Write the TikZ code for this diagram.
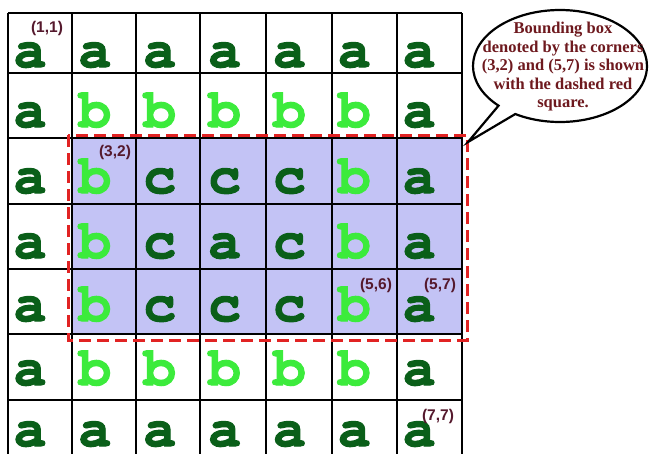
\documentclass[tikz,border=0pt]{standalone}
\usepackage{fontspec}
\usetikzlibrary{shapes.callouts}
\newfontfamily\cellfont{TeX Gyre Cursor}[BoldFeatures={FakeBold=1.8}]
\newfontfamily\labfont{Liberation Sans}
\newfontfamily\notefont{Liberation Serif}
\definecolor{la}{RGB}{10,95,25}
\definecolor{lb}{RGB}{60,235,60}
\definecolor{lc}{RGB}{10,95,25}
\definecolor{boxfill}{RGB}{195,195,245}
\definecolor{boxred}{RGB}{225,35,35}
\definecolor{labcol}{RGB}{85,25,45}
\definecolor{notecol}{RGB}{110,25,30}
\tikzset{
  letter/.style={font=\cellfont\bfseries\fontsize{55}{55}\selectfont, inner sep=0pt, anchor=base},
  coordlab/.style={font=\labfont\bfseries\fontsize{15.5}{15.5}\selectfont, text=labcol, inner sep=0pt},
  gridline/.style={line width=2.6pt, black},
  dashbox/.style={draw=boxred, line width=3pt, dash pattern=on 12pt off 6pt},
  bubble/.style={ellipse callout, draw=black, fill=white, line width=2.2pt, minimum width=174pt, minimum height=112pt, inner sep=0pt, callout pointer arc=14},
  notetext/.style={font=\notefont\bfseries\fontsize{16.5}{18.5}\selectfont, text=notecol, align=center, inner sep=0pt}
}
\begin{document}
\begin{tikzpicture}[x=1pt,y=-1pt]
\clip (0,0) rectangle (650,453);
\fill[white] (0,0) rectangle (650,453);
% shaded region
\fill[fill=boxfill] (72,138) rectangle (462,334);
% grid
\foreach \xx in {8,72,136,200,266,332,397,462} \draw[gridline] (\xx,13) -- (\xx,466);
\foreach \yy in {13,73,138,204,269,334,400,465} \draw[gridline] (8,\yy) -- (462,\yy);
% letters
\foreach \r/\by/\row in {1/67/{a,a,a,a,a,a,a},2/127/{a,b,b,b,b,b,a},3/193/{a,b,c,c,c,b,a},4/258/{a,b,c,a,c,b,a},5/321/{a,b,c,c,c,b,a},6/385/{a,b,b,b,b,b,a},7/446/{a,a,a,a,a,a,a}}{
  \foreach \ch [count=\c] in \row {
    \node[letter, text=l\ch] (cell-\r-\c) at ({30+64.86*(\c-1)},\by) {\ch};
  }
}
% coordinate labels
\node[coordlab] (l11) at (47,28) {(1,1)};
\node[coordlab] (l32) at (115,152) {(3,2)};
\node[coordlab] (l56) at (376,285) {(5,6)};
\node[coordlab] (l57) at (440,285) {(5,7)};
\node[coordlab] (l77) at (438,416) {(7,7)};
% dashed bounding box
\draw[dashbox] (68,135) rectangle (467,340);
% callout
\coordinate (tip) at (468,142);
\node[bubble, callout absolute pointer={(tip)}] (bub) at (560,66) {};
\node[notetext] (note) at (563,67) {Bounding box\\denoted by the corners\\(3,2) and (5,7) is shown\\with the dashed red\\square.};
\end{tikzpicture}
\end{document}
